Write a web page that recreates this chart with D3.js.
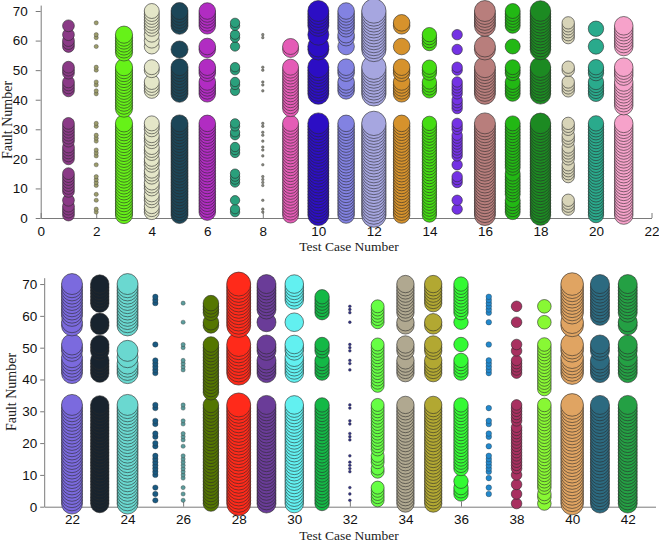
<!DOCTYPE html>
<html><head><meta charset="utf-8">
<script src="https://cdn.jsdelivr.net/npm/d3@7/dist/d3.min.js"></script>
<style>body{margin:0;background:#fff}svg{display:block}</style>
</head><body>
<script>
// ---------- data ----------
const lowBand = [1,2,3,4,5,6,7,8,9,10,11,12,13,14,15,16,17,18,19,20,21,22,23,24,25,26,27,28,29,30,31,32];
const midBand = [42,43,44,45,46,47,48,49,50,51];
const midBandS = [42,43,44,45,46,49,50,51];
const midWide = [36,37,38,39,40,41,42,43,44,45,46,47,48,49,50,51];
const highBand = [57,58,59,60,61,62,63,64,65,66,67,68,69,70];
const topGroup = [65,66,67,68,69,70];

const caseNumbers = [1,2,3,4,5,6,7,8,9,10,11,12,13,14,15,16,17,18,19,20,21,
                     22,23,24,25,26,27,28,29,30,31,32,33,34,35,36,37,38,39,40,41,42];

const faultsByCase = [
  /*1*/  [1,2,3,4,6,9,10,11,12,13,14,15,20,21,22,23,24,26,27,28,29,30,31,32,43,44,45,46,49,50,51,58,59,60,62,65],
  /*2*/  [2,3,6,8,11,12,13,14,18,21,22,23,26,27,28,31,32,42,43,45,46,50,51,58,61,62,66],
  /*3*/  lowBand.concat([37,38,39,40,41,42,43,44,45,46,47,48,49,50,51,56,57,58,59,60,61,62]),
  /*4*/  [2,3,4,6,7,8,10,11,12,14,15,16,18,19,20,22,23,24,26,27,28,30,31,32,43,44,45,46,50,51,58,60,62,64,65,66,67,68,69,70],
  /*5*/  lowBand.concat(midBand, [57], topGroup),
  /*6*/  [2,3,4,5,6,7,8,9,10,11,12,13,14,15,16,17,18,19,20,21,22,23,24,25,26,27,28,29,30,31,32].concat(midBandS, [57,58], topGroup),
  /*7*/  [2,3,6,12,13,14,15,22,23,24,28,29,31,32,43,45,46,50,51,58,61,62,65,66],
  /*8*/  [2,3,6,11,12,13,14,18,21,23,24,26,28,29,31,32,43,45,46,50,51,61,62],
  /*9*/  lowBand.concat([37,38,39,40,41,42,43,44,45,46,47,48,49,50,51,57,58]),
  /*10*/ lowBand.concat(midBand, [57,58,62], topGroup),
  /*11*/ lowBand.concat([43,44,45,46,49,50,51,58,61,62,64], topGroup),
  /*12*/ lowBand.concat(midBand, highBand),
  /*13*/ lowBand.concat(midBandS, [58,65,66]),
  /*14*/ lowBand.concat([43,44,45,46,49,50,51,59,60,61,62]),
  /*15*/ [3,6,12,13,14,18,21,22,23,24,25,26,27,28,30,31,32,37,38,39,40,42,43,44,45,46,50,51,57,62],
  /*16*/ lowBand.concat(midBand, [57,58], topGroup),
  /*17*/ [2,3,4,5,6,8,9,10,11,12,13,14,15,17,18,19,20,21,22,23,24,25,26,27,28,29,30,31,32].concat(midBandS, [58], topGroup),
  /*18*/ lowBand.concat(midBand, highBand),
  /*19*/ [3,4,5,6,14,15,16,17,18,20,21,22,23,24,26,27,28,30,31,32,43,44,45,46,50,51,61,62,63,64,65,66],
  /*20*/ lowBand.concat(midBandS, [58,64]),
  /*21*/ lowBand.concat([38,39,40,41,42,43,44,45,46,48,49,50,51,58,59,60,61,62,63,64,65]),
  /*22*/ lowBand.concat([42,43,44,45,46,47,49,50,51,57,58,60,61,62,63,64], topGroup),
  /*23*/ lowBand.concat(midBandS, [57,58,64], topGroup),
  /*24*/ lowBand.concat([42,43,44,45,47,49], highBand),
  /*25*/ [2,4,6,10,11,12,13,14,15,16,19,20,22,23,26,27,31,32,42,43,44,45,46,51,64,65,66],
  /*26*/ [2,4,6,9,10,11,12,13,14,15,16,19,21,22,23,26,27,31,32,43,44,45,46,50,51,58,64],
  /*27*/ lowBand.concat(midWide, [57,58,61,62,63,64]),
  /*28*/ lowBand.concat(midBand, highBand),
  /*29*/ lowBand.concat(midBandS, [58,62,63,64], topGroup),
  /*30*/ lowBand.concat([42,43,44,45,46,47,49,50,51,58], topGroup),
  /*31*/ lowBand.concat(midBandS, [61,62,63,64,65,66]),
  /*32*/ [2,4,6,11,12,13,14,16,21,22,23,26,27,31,32,43,45,46,49,50,51,58,61,62,63],
  /*33*/ [2,3,4,5,6,11,12,14,15,16,18,19,20,21,22,23,24,25,26,27,28,29,30,31,32,38,39,40,41,42,43,44,45,46,47,48,49,50,51,58,59,60,61,62,63],
  /*34*/ lowBand.concat(midBandS, [57,58,61,62,63,64], topGroup),
  /*35*/ lowBand.concat(midBandS, [57,58,64], topGroup),
  /*36*/ [4,5,6,8,12,13,14,15,16,17,18,19,20,21,22,23,24,25,26,27,28,29,30,31,32,42,43,44,45,46,51,58,61,62,63,64,65,66,67,68,69,70],
  /*37*/ [4,6,9,11,12,13,14,15,16,19,22,23,26,27,31,42,43,44,45,46,51,58,61,62,63,64,65,66],
  /*38*/ [1,4,7,10,12,13,14,15,16,17,18,19,20,21,22,23,24,25,27,28,29,30,31,32,42,43,44,45,46,49,51,58,63],
  /*39*/ [1,3,4,6,7,8,9,10,11,12,13,14,15,16,17,18,19,20,21,22,23,24,25,26,27,28,29,30,31,32,37,38,39,40,41,42,43,44,45,46,47,48,49,50,51,58,63],
  /*40*/ lowBand.concat([42,43,44,45,46,47,49,50,51,57,58,61,62,63,64], topGroup),
  /*41*/ lowBand.concat(midBandS, [60,61,62,63,64], topGroup),
  /*42*/ lowBand.concat([42,43,44,45,46,47,49,50,51,57,58,61,62,63,64], topGroup)
];

const xTicksTop = [0,2,4,6,8,10,12,14,16,18,20,22];
const xTicksBottom = [22,24,26,28,30,32,34,36,38,40,42];
const yTicks = [0,10,20,30,40,50,60,70];

// ---------- styles (not data) ----------
const caseColors = ["#8a3a86","#9c9c6c","#66f218","#e4e6c8","#1c4658","#b12cc2","#2aa07c","#8a8a80","#e45cb6","#2c0ec4",
  "#8282e2","#a6a6e0","#d6922c","#44dc12","#7432e4","#b87e7c","#22b814","#1c8a22","#d8d4b8","#2aaa8c","#f6a2ca",
  "#7b6ade","#18232e","#6ad8d0","#1a5a82","#5c9c9c","#547600","#ff2a1a","#6a3c98","#62f0f0","#14b846","#333388",
  "#66ff44","#b0a890","#b2a832","#34fa34","#2288cc","#a83060","#88f834","#e0a462","#2c6a80","#24a044"];
const caseRadius = [5.9,2.1,8.6,7.5,8.5,8.3,4.7,1.3,8,10.5,8.3,12.2,8.3,7.2,5.2,10.5,7.5,10.3,6.2,7.7,9.3,
  10.5,9.2,10.5,2.7,2.1,7.8,12,9.5,9.3,7.2,1.4,6.5,8.7,8.7,7.2,2.8,5.3,6.8,11.3,9.5,9.5];

const W = 659, H = 543;
const svg = d3.select("body").append("svg").attr("width", W).attr("height", H);

const panels = [
  {cases: caseNumbers.slice(0,21), xDom:[0,22], xRange:[40.7,651.5], yRange:[218,5.1], xTicks:xTicksTop,
   xPad:8, yTick:5, yPad:8, titleY:251, yTitleX:12, yTitleY:120},
  {cases: caseNumbers.slice(21), xDom:[21,43], xRange:[44.2,655.5], yRange:[506.7,277.7], xTicks:xTicksBottom,
   xPad:8, yTick:4, yPad:3, titleY:540, yTitleX:16, yTitleY:392}
];

panels.forEach(p => {
  const x = d3.scaleLinear().domain(p.xDom).range(p.xRange);
  const y = d3.scaleLinear().domain([0,72]).range(p.yRange);
  const g = svg.append("g");

  const xAxis = g.append("g").attr("transform", `translate(0,${p.yRange[0]})`)
    .call(d3.axisBottom(x).tickValues(p.xTicks).tickSizeInner(-5).tickSizeOuter(0).tickPadding(p.xPad));
  const yAxis = g.append("g").attr("transform", `translate(${p.xRange[0]},0)`)
    .call(d3.axisLeft(y).tickValues(yTicks).tickSizeInner(p.yTick).tickSizeOuter(0).tickPadding(p.yPad));
  [xAxis, yAxis].forEach(a => {
    a.selectAll("path,line").attr("stroke", "#7a7a7a").attr("stroke-width", 1);
    a.selectAll("text").attr("fill", "#111").style("font-family", "'Liberation Sans', Arial, sans-serif").style("font-size", "13.5px");
  });

  p.cases.forEach(c => {
    const idx = caseNumbers.indexOf(c);
    const faults = faultsByCase[idx].slice().sort((a,b)=>a-b);
    g.append("g").selectAll("circle").data(faults).join("circle")
      .attr("cx", x(c)).attr("cy", d => y(d)).attr("r", caseRadius[idx])
      .attr("fill", caseColors[idx]).attr("stroke", "#2a2a2a").attr("stroke-width", caseRadius[idx] < 3 ? 0.4 : 0.7)
      .attr("stroke-opacity", 0.85);
  });

  g.append("text").attr("x", 349).attr("y", p.titleY).attr("text-anchor", "middle")
    .style("font-family", "'Liberation Serif', 'Times New Roman', serif").style("font-size", "13.5px").attr("fill", "#222")
    .text("Test Case Number");
  g.append("text").attr("transform", `translate(${p.yTitleX},${p.yTitleY}) rotate(-90)`).attr("text-anchor", "middle")
    .style("font-family", "'Liberation Serif', 'Times New Roman', serif").style("font-size", "14px").attr("fill", "#222")
    .text("Fault Number");
});
</script>
</body></html>
